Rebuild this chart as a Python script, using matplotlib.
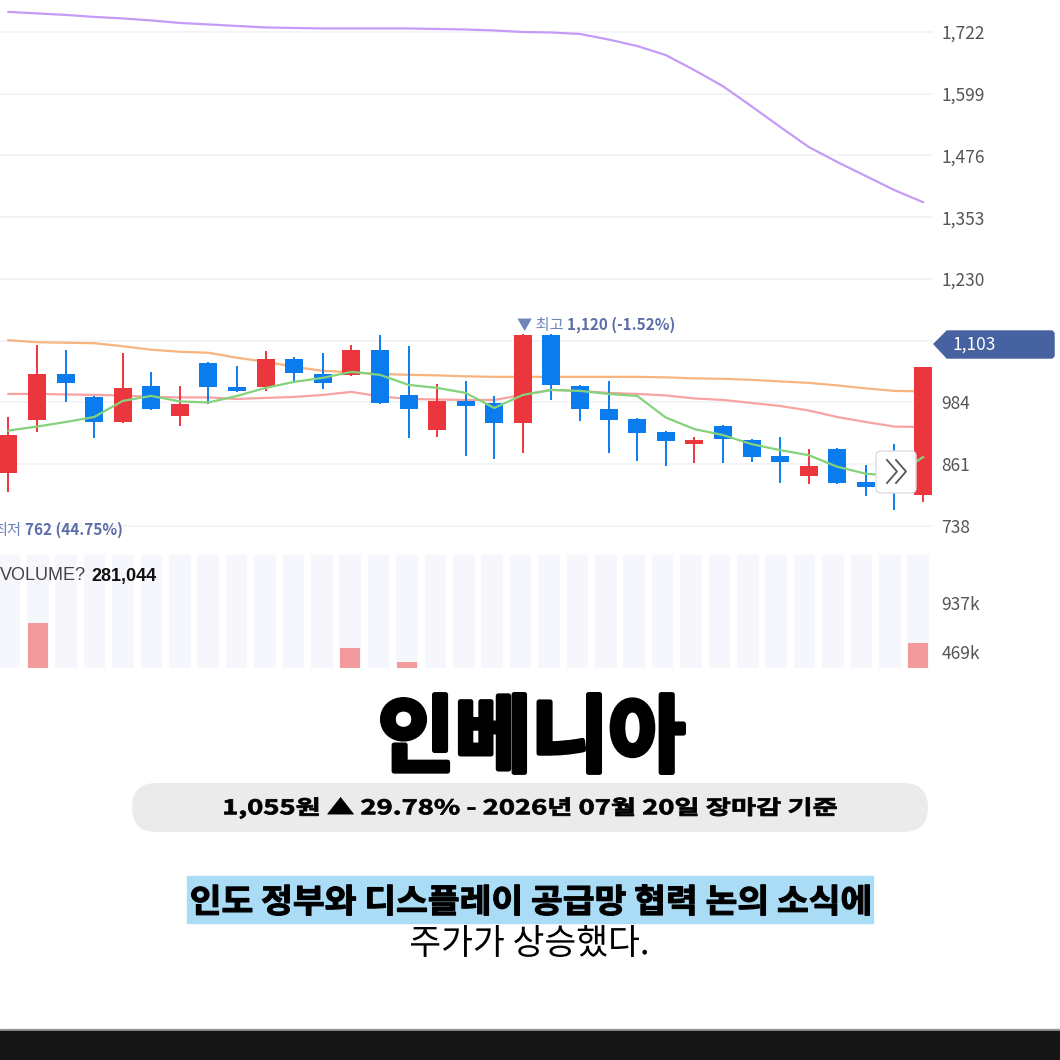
import numpy as np
import matplotlib.pyplot as plt
from matplotlib.patches import Polygon, FancyBboxPatch, PathPatch, Rectangle
from matplotlib.textpath import TextPath
from matplotlib.font_manager import FontProperties
from matplotlib.transforms import Affine2D

plt.rcParams['font.family'] = ['Noto Sans CJK KR', 'DejaVu Sans']

# daily candles (KRW), oldest -> newest
opens = [844, 949, 1041, 995, 945, 1017, 957, 1063, 1015, 1015,
         1071, 1041, 1039, 1089, 999, 929, 987, 983, 943, 1118,
         1017, 971, 951, 925, 901, 937, 909, 877, 838, 891,
         826, 830, 800]
highs = [955, 1098, 1089, 997, 1083, 1045, 1017, 1065, 1057, 1087,
         1075, 1083, 1098, 1118, 1096, 1021, 1027, 997, 1120, 1120,
         1019, 1027, 953, 927, 915, 939, 911, 915, 891, 893,
         860, 901, 1055]
lows = [806, 925, 985, 913, 943, 969, 937, 981, 1005, 1007,
        1025, 1011, 1037, 981, 913, 915, 877, 871, 883, 989,
        947, 883, 867, 857, 863, 863, 865, 824, 822, 822,
        798, 770, 786]
closes = [919, 1041, 1023, 945, 1013, 971, 981, 1015, 1007, 1071,
          1043, 1023, 1089, 983, 971, 987, 977, 943, 1118, 1019,
          971, 949, 923, 907, 909, 911, 875, 865, 857, 824,
          816, 813, 1055]

# moving averages
ma5 = [928, 936, 945, 955, 987, 997, 986, 984, 997, 1013,
       1025, 1033, 1045, 1039, 1019, 1013, 1003, 973, 999, 1009,
       1007, 1001, 997, 954, 931, 919, 901, 889, 879, 856,
       842, 838, 875]
ma20 = [1001, 1001, 1000, 999, 998, 995, 994, 994, 991, 993,
        995, 999, 1005, 996, 991, 990, 989, 989, 999, 1009,
        1007, 1003, 1001, 998, 992, 989, 983, 977, 968, 955,
        945, 936, 935]
ma60 = [1108, 1104, 1103, 1102, 1096, 1089, 1085, 1083, 1073, 1065,
        1055, 1047, 1044, 1041, 1039, 1038, 1036, 1035, 1035, 1035,
        1035, 1035, 1035, 1034, 1032, 1031, 1029, 1026, 1023, 1018,
        1012, 1007, 1006]
ma120 = [1762, 1759, 1756, 1752, 1749, 1745, 1740, 1737, 1734, 1731,
         1730, 1729, 1729, 1729, 1729, 1728, 1727, 1725, 1722, 1721,
         1718, 1707, 1694, 1676, 1646, 1614, 1574, 1533, 1493, 1463,
         1435, 1407, 1383]

# volume in thousands of shares
volumes = [210, 746, 180, 190, 230, 170, 160, 200, 150, 240,
           170, 180, 507, 260, 373, 220, 190, 200, 290, 250,
           180, 190, 160, 150, 140, 170, 160, 180, 150, 190,
           160, 200, 558]

price_ticks = [738, 861, 984, 1107, 1230, 1353, 1476, 1599, 1722]
vol_ticks = [469, 937]

W = 1060
fig = plt.figure(figsize=(10.6, 10.6), dpi=100)
fig.patch.set_facecolor('white')

x = np.arange(len(closes))

# ---- price panel ----
ax = fig.add_axes([0, (W - 540) / W, 933 / W, 540 / W])
ax.set_xlim(-0.294, 32.35)
ax.set_ylim(710, 1785.7)
for t in price_ticks:
    ax.axhline(t, color='#f0f2f6', lw=1.2, zorder=0)

ax.plot(x, ma120, color='#c49cf7', lw=1.6, zorder=2)
ax.plot(x, ma60, color='#f8b47f', lw=1.6, zorder=2)
ax.plot(x, ma20, color='#f7a3a3', lw=1.6, zorder=2)

red, blue = '#ec363d', '#0b7ced'
cols = [red if c >= o else blue for o, c in zip(opens, closes)]
ax.vlines(x, lows, highs, colors=cols, lw=1.4, zorder=3)
bottoms = [min(o, c) for o, c in zip(opens, closes)]
heights = [max(abs(c - o), 6) for o, c in zip(opens, closes)]
ax.bar(x, heights, bottom=bottoms, width=0.63, color=cols, zorder=4)
ax.plot(x, ma5, color='#84d27a', lw=1.6, zorder=5)

ax.yaxis.tick_right()
ax.set_yticks(price_ticks)
# the 1,107 label sits under the current-price tag
ax.set_yticklabels(['' if t == 1107 else f'{t:,}' for t in price_ticks])
ax.tick_params(axis='y', length=0, pad=6, labelsize=12.5, labelcolor='#555555')
ax.set_xticks([])
for s in ax.spines.values():
    s.set_visible(False)
ax.patch.set_alpha(0)

# ---- volume panel ----
axv = fig.add_axes([0, (W - 668) / W, 933 / W, 113 / W])
axv.set_xlim(-0.33, 32.52)
axv.set_ylim(316, 1395)
axv.bar(x, [1395] * len(x), width=0.76, color='#f5f7fc', zorder=1)
axv.bar(x, volumes, width=0.72, color='#f29a9c', zorder=2)
axv.yaxis.tick_right()
axv.set_yticks(vol_ticks)
axv.set_yticklabels([f'{v}k' for v in vol_ticks])
axv.tick_params(axis='y', length=0, pad=6, labelsize=12.5, labelcolor='#555555')
axv.set_xticks([])
for s in axv.spines.values():
    s.set_visible(False)
axv.patch.set_alpha(0)

# ---- overlay in pixel coordinates ----
ov = fig.add_axes([0, 0, 1, 1], zorder=10)
ov.set_xlim(0, W)
ov.set_ylim(W, 0)
ov.axis('off')


def fit_text(s, x0, x1, y0, y1, weight='bold', color='black', stroke=0):
    # squeeze a text path into the ink box (x0..x1, y0..y1), optional outline to fatten it
    fp = FontProperties(family='Noto Sans CJK KR', weight=weight)
    tp = TextPath((0, 0), s, size=100, prop=fp)
    ext = tp.get_extents()
    h = stroke / 2
    tr = (Affine2D().translate(-ext.x0, -ext.y1)
          .scale((x1 - x0 - stroke) / ext.width, -(y1 - y0 - stroke) / ext.height)
          .translate(x0 + h, y0 + h))
    ov.add_patch(PathPatch(tp, transform=tr + ov.transData, fc=color, ec=color,
                           lw=stroke * 0.72, joinstyle='round'))


# current price tag
ov.add_patch(Polygon([(934, 344), (947, 331), (1052, 331), (1054, 333),
                      (1054, 356), (1052, 358), (947, 358)],
                     closed=True, color='#4662a0', zorder=3))
ov.text(953, 345, '1,103', color='white', fontsize=12.5, va='center', ha='left', zorder=4)

# high / low labels
ov.text(517, 325, '▼ 최고', color='#7185b8', fontsize=11, va='center', ha='left')
ov.text(567, 325, '1,120 (-1.52%)', color='#5b6ea8', fontsize=11, va='center',
        ha='left', fontweight='bold')
ov.text(21, 530, '최저', color='#7185b8', fontsize=11, va='center', ha='right')
ov.text(25, 530, '762 (44.75%)', color='#5b6ea8', fontsize=11, va='center',
        ha='left', fontweight='bold')

ov.text(0, 576, 'VOLUME?', color='#444444', fontsize=13, va='center', ha='left',
        family='Liberation Sans')
ov.text(91, 576, '281,044', color='#111111', fontsize=13, va='center', ha='left',
        fontweight='bold', family='Liberation Sans')

# scroll button
ov.add_patch(FancyBboxPatch((876, 451), 40, 42, boxstyle='round,pad=0,rounding_size=5',
                            fc='white', ec='#dcdde2', lw=1, zorder=3))
for dx in (0, 9):
    ov.plot([887 + dx, 897 + dx, 887 + dx], [460, 471.5, 483], color='#555555',
            lw=1.3, zorder=4)

# ---- headline block ----
fit_text('인베니아', 380, 686, 692, 775, weight='black', stroke=5)
ov.add_patch(FancyBboxPatch((132, 783), 796, 49, boxstyle='round,pad=0,rounding_size=24.5',
                            fc='#ebebeb', ec='none'))
fit_text('1,055원 ▲ 29.78% - 2026년 07월 20일 장마감 기준', 224, 837, 797, 819,
         weight='bold', stroke=0.8)
ov.add_patch(Rectangle((187, 876), 686, 47, color='#abdcf5'))
fit_text('인도 정부와 디스플레이 공급망 협력 논의 소식에', 191, 870, 884, 916,
         weight='bold', stroke=1.2)
fit_text('주가가 상승했다.', 411, 647, 925, 957, weight='medium')

# bottom bar
ov.add_patch(Rectangle((0, 1029), W, 1.5, color='#9a9a9a'))
ov.add_patch(Rectangle((0, 1030.5), W, 30, color='#151515'))

fig.savefig('out.png', dpi=100)
